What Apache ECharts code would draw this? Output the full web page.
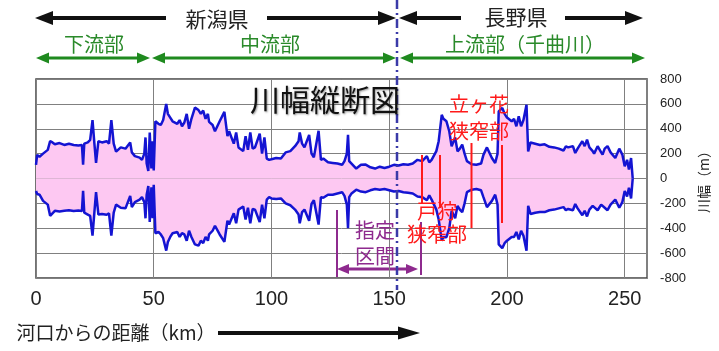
<!DOCTYPE html>
<html>
<head>
<meta charset="utf-8">
<script src="https://cdn.jsdelivr.net/npm/echarts@6/dist/echarts.min.js"></script>
<style>
html, body { margin: 0; padding: 0; background: #fff; }
#chart { width: 719px; height: 351px; }
</style>
</head>
<body>
<div id="chart"></div>
<script>
// distance from river mouth (km)
const distanceKm = [
  0, 0.5, 1.5, 3, 5, 6, 7, 8, 10, 12,
  14, 16, 18, 19.5, 20, 20.5, 22, 23, 24, 24.8,
  25.5, 26.5, 28, 30, 31, 32, 33, 34, 36, 38,
  40, 40.7, 42, 44, 45, 46, 46.5, 47, 47.7, 48.3,
  49, 49.5, 50, 50.7, 52, 53, 54, 55.3, 56, 57,
  58, 60, 61, 62, 63, 64, 65, 66, 67.5, 69,
  70, 71, 72, 73, 73.5, 75, 76, 78, 80, 81.3,
  82, 84, 85, 86, 88, 89, 90, 91, 92, 93,
  95, 96, 97, 98, 99, 100, 102, 104, 106, 108,
  110, 111.5, 112, 113, 114, 116, 117, 118, 120, 121,
  122, 124, 126, 128, 130, 131, 132, 132.5, 133, 134,
  136, 138, 140, 142, 144, 146, 148, 150, 152, 154,
  156, 158, 160, 162, 164, 166, 167, 168, 170, 171,
  172.3, 173, 174.3, 175.5, 176.5, 178, 179, 180, 181, 182,
  183, 185, 187, 189, 190, 191.5, 193.6, 195, 196, 196.5,
  198, 199, 200, 202, 203, 204, 205, 206, 207, 208.3,
  209, 210, 212, 214, 216, 218, 220, 222, 224, 225,
  226, 228, 229, 230, 232, 233, 234, 235, 236.4, 237,
  238.5, 240, 240.6, 241.5, 242.7, 244, 244.8, 246, 247.7, 249,
  250, 251, 251.8, 252.7, 253.3, 253.4
];
// right bank side (m)
const upperWidth = [
  110, 190, 175, 200, 230, 300, 290, 275, 285, 270,
  280, 270, 265, 270, 112, 280, 290, 310, 470, 280,
  125, 300, 290, 300, 280, 470, 280, 216, 250, 240,
  290, 210, 180, 168, 150, 200, 330, 120, 60, 370,
  80, 300, 64, 460, 440, 430, 470, 600, 520, 490,
  460, 440, 470, 420, 450, 520, 400, 480, 570, 550,
  520, 546, 480, 520, 455, 430, 380, 460, 536, 340,
  380, 280, 370, 250, 220, 340, 230, 370, 240, 250,
  360, 200, 330, 160, 150, 155, 165, 160, 210, 220,
  260, 300, 370, 280, 250, 350, 200, 170, 384, 150,
  160, 130, 125, 120, 110, 140, 200, 352, 140, 120,
  80, 110, 112, 90, 80, 95, 85, 95, 110, 105,
  115, 110, 120, 150, 140, 180, 130, 150, 220, 300,
  512, 480, 460, 380, 258, 330, 218, 240, 272, 200,
  140, 115, 110, 120, 190, 250, 165, 125, 200, 540,
  568, 520, 490, 460, 480, 420, 500, 420, 470, 592,
  218, 290, 280, 270, 275, 255, 250, 240, 225, 258,
  250, 260, 205, 240, 300, 260, 312, 250, 220, 200,
  260, 210, 192, 240, 260, 210, 218, 165, 240, 192,
  98, 150, 72, 165, 150, 0
];
// left bank side (m)
const lowerWidth = [
  -100, -125, -130, -180, -210, -300, -280, -260, -265, -260,
  -255, -262, -258, -262, -100, -275, -290, -300, -460, -270,
  -110, -290, -285, -292, -280, -460, -275, -210, -235, -240,
  -140, -230, -190, -170, -150, -190, -320, -130, -60, -350,
  -70, -320, -50, -440, -430, -450, -480, -580, -510, -470,
  -440, -430, -470, -440, -450, -500, -420, -470, -530, -540,
  -500, -520, -470, -500, -450, -420, -380, -450, -510, -340,
  -370, -280, -360, -250, -225, -330, -235, -360, -245, -250,
  -350, -210, -320, -170, -150, -160, -165, -160, -200, -215,
  -250, -290, -360, -270, -250, -340, -205, -175, -370, -150,
  -155, -130, -130, -120, -110, -140, -210, -400, -150, -120,
  -90, -105, -110, -95, -85, -90, -85, -95, -105, -100,
  -110, -115, -120, -145, -150, -175, -135, -170, -250, -330,
  -500, -470, -472, -400, -260, -320, -220, -250, -270, -200,
  -110, -90, -85, -95, -150, -230, -180, -130, -210, -530,
  -560, -520, -500, -470, -470, -430, -490, -420, -460, -580,
  -220, -285, -275, -270, -270, -255, -250, -240, -230, -255,
  -245, -255, -205, -240, -295, -260, -305, -250, -220, -205,
  -255, -210, -195, -235, -255, -210, -215, -170, -235, -190,
  -100, -145, -75, -160, -150, 0
];
const xTicks = [0, 50, 100, 150, 200, 250];
const yTicks = [-800, -600, -400, -200, 0, 200, 400, 600, 800];

const JP = '"Noto Sans CJK JP", sans-serif';
const BLUE = '#1414d2';
const PINK = '#fdc8f2';

function pairs(ys) {
  return distanceKm.map((x, i) => [x, ys[i]]);
}

// horizontal arrow built from a line and triangle heads
function hArrow(x1, x2, y, color, lw, hl, hh, left, right) {
  const items = [{
    type: 'line', silent: true,
    shape: { x1: left ? x1 + hl - 1 : x1, y1: y, x2: right ? x2 - hl + 1 : x2, y2: y },
    style: { stroke: color, lineWidth: lw }
  }];
  if (left) {
    items.push({ type: 'polygon', silent: true,
      shape: { points: [[x1, y], [x1 + hl, y - hh / 2], [x1 + hl, y + hh / 2]] },
      style: { fill: color } });
  }
  if (right) {
    items.push({ type: 'polygon', silent: true,
      shape: { points: [[x2, y], [x2 - hl, y - hh / 2], [x2 - hl, y + hh / 2]] },
      style: { fill: color } });
  }
  return items;
}

function label(text, x, y, color, size, extra) {
  return {
    type: 'text', silent: true, x: x, y: y, z: 100,
    style: Object.assign({ text: text, fill: color, font: size + 'px ' + JP,
      align: 'center', verticalAlign: 'middle' }, extra || {})
  };
}

function vLine(x, y1, y2, color, lw, dash) {
  return { type: 'line', silent: true, z: 90,
    shape: { x1: x, y1: y1, x2: x, y2: y2 },
    style: { stroke: color, lineWidth: lw, lineDash: dash || null } };
}

const BLACK = '#111';
const GREEN = '#1f8a1f';
const RED = '#ff1a1a';
const PURPLE = '#8e2a8e';

const graphics = [].concat(
  // prefecture arrows
  hArrow(35, 166, 18, BLACK, 4, 18, 14, true, false),
  hArrow(267, 396, 18, BLACK, 4, 18, 14, false, true),
  hArrow(399, 461, 18, BLACK, 4, 18, 14, true, false),
  hArrow(565, 643, 18, BLACK, 4, 18, 14, false, true),
  [label('新潟県', 217, 19, '#222', 21), label('長野県', 516, 17, '#222', 21)],
  // reach arrows
  hArrow(36, 150, 58, GREEN, 3, 13, 11, true, true),
  hArrow(152, 396, 58, GREEN, 3, 13, 11, true, true),
  hArrow(400, 645, 58, GREEN, 3, 13, 11, true, true),
  [label('下流部', 94, 44, '#2a8a2a', 20), label('中流部', 270, 44, '#2a8a2a', 20),
   label('上流部（千曲川）', 525, 44, '#2a8a2a', 20)],
  // prefecture boundary
  [vLine(397, 0, 290, '#3a3aa8', 2.5, [9, 4, 2, 4])],
  // title
  [label('川幅縦断図', 325, 100, '#111', 30,
    { textShadowColor: 'rgba(0,0,0,0.4)', textShadowBlur: 2, textShadowOffsetX: 1, textShadowOffsetY: 1 })],
  // narrow sections
  [vLine(422, 155, 203, RED, 2), vLine(440, 155, 208, RED, 2),
   vLine(471.5, 143, 228, RED, 2), vLine(502, 145, 223, RED, 2)],
  [label('立ヶ花', 479, 104, RED, 20), label('狭窄部', 479, 131, RED, 20),
   label('戸狩', 437, 211, RED, 20), label('狭窄部', 437, 234, RED, 20)],
  // designated section
  [vLine(337, 210, 277, PURPLE, 2), vLine(421, 222, 275, PURPLE, 2)],
  hArrow(337, 418, 269, PURPLE, 3, 12, 10, true, true),
  [label('指定', 375, 230, PURPLE, 20), label('区間', 375, 256, PURPLE, 20)],
  // x-axis caption
  [label('河口からの距離（km）', 116, 333, '#222', 19)],
  hArrow(218, 420, 333, BLACK, 4, 22, 13, false, true)
);

const chart = echarts.init(document.getElementById('chart'));
chart.setOption({
  animation: false,
  backgroundColor: '#fff',
  grid: { left: 36, right: 64, top: 79, bottom: 73, show: true, borderColor: '#444', borderWidth: 1.5, backgroundColor: '#fff' },
  xAxis: {
    type: 'value',
    min: xTicks[0], max: 259.5, interval: xTicks[1] - xTicks[0],
    axisLine: { show: false },
    axisTick: { show: true, length: 3, lineStyle: { color: '#999' } },
    axisLabel: { showMaxLabel: false, margin: 11, color: '#222', fontSize: 20,
      fontFamily: '"Liberation Sans Narrow", "Liberation Sans", sans-serif' },
    splitLine: { show: true, lineStyle: { color: '#808080', width: 1 } }
  },
  yAxis: {
    type: 'value', position: 'right',
    min: yTicks[0], max: yTicks[yTicks.length - 1], interval: yTicks[1] - yTicks[0],
    name: '川幅（m）', nameLocation: 'middle', nameRotate: 90, nameGap: 44,
    nameTextStyle: { color: '#222', fontSize: 14, fontFamily: JP },
    axisLine: { show: false },
    axisTick: { show: false },
    axisLabel: { margin: 13, color: '#222', fontSize: 13, align: 'left',
      fontFamily: '"Liberation Sans", Arial, sans-serif' },
    splitLine: { show: true, lineStyle: { color: '#808080', width: 1 } }
  },
  series: [
    {
      type: 'line', data: pairs(upperWidth), symbol: 'none', silent: true,
      lineStyle: { color: BLUE, width: 2.5 },
      areaStyle: { color: PINK, opacity: 1, origin: 0 }, z: 3
    },
    {
      type: 'line', data: pairs(lowerWidth), symbol: 'none', silent: true,
      lineStyle: { color: BLUE, width: 2.5 },
      areaStyle: { color: PINK, opacity: 1, origin: 0 }, z: 3
    }
  ],
  graphic: graphics
});
</script>
</body>
</html>
